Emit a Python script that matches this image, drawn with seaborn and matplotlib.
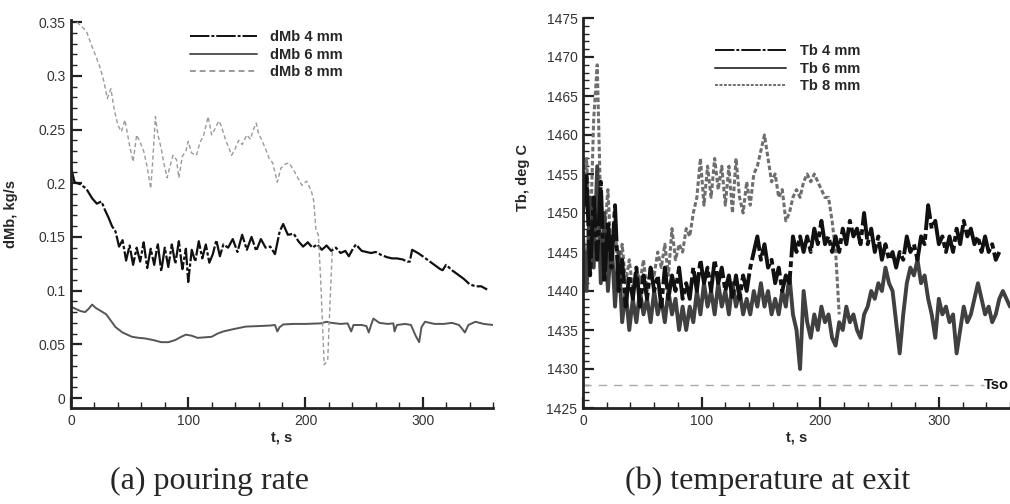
import numpy as np
import pandas as pd
import matplotlib
matplotlib.use("Agg")
import matplotlib.pyplot as plt
from matplotlib.ticker import MultipleLocator, FuncFormatter
import seaborn as sns

# ---------------- data: (a) pouring rate dMb, kg/s ----------------
t_dmb4 = [0, 3, 8, 13, 18, 22, 26, 29, 32, 35,
          38, 41, 44, 47, 50, 53, 56, 59, 62, 65,
          68, 71, 74, 77, 80, 83, 86, 89, 92, 95,
          98, 100, 103, 106, 109, 112, 115, 118, 121, 124,
          127, 130, 134, 138, 142, 146, 150, 154, 158, 162,
          166, 170, 174, 178, 181, 185, 190, 194, 198, 202,
          206, 210, 214, 218, 222, 226, 230, 234, 237, 240,
          243, 248, 252, 256, 260, 265, 270, 274, 278, 283,
          287, 289, 291, 296, 300, 305, 310, 315, 317, 320,
          325, 330, 335, 340, 345, 350, 355]
dmb4 = [.215, .201, .199, .195, .186, .181, .183, .175, .168, .160,
        .155, .141, .147, .128, .142, .124, .140, .127, .145, .121,
        .139, .124, .144, .118, .140, .122, .143, .125, .146, .120,
        .139, .108, .138, .127, .146, .130, .143, .126, .134, .147,
        .132, .143, .140, .148, .136, .152, .138, .150, .137, .148,
        .140, .141, .134, .155, .162, .152, .153, .146, .141, .145,
        .140, .143, .138, .142, .137, .140, .135, .137, .132, .138,
        .143, .137, .136, .135, .136, .133, .131, .130, .130, .129,
        .127, .127, .138, .135, .132, .128, .124, .120, .119, .124,
        .119, .115, .111, .106, .104, .104, .101]

t_dmb6 = [0, 4, 8, 12, 15, 18, 21, 24, 27, 30,
          34, 38, 44, 52, 58, 63, 70, 77, 83, 89,
          94, 98, 103, 108, 114, 120, 125, 130, 138, 149,
          160, 170, 174, 176, 178, 181, 190, 200, 213, 218,
          222, 230, 236, 239, 241, 248, 252, 254, 256, 258,
          263, 270, 275, 276, 278, 285, 290, 294, 297, 299,
          302, 310, 318, 325, 331, 334, 336, 339, 345, 352,
          360]
dmb6 = [.085, .083, .081, .080, .083, .087, .084, .082, .080, .078,
        .072, .066, .061, .057, .056, .0555, .054, .052, .052, .054,
        .057, .059, .058, .056, .0565, .057, .060, .062, .064, .0665,
        .067, .0675, .068, .062, .066, .0685, .069, .069, .0695, .071,
        .070, .069, .0695, .062, .068, .068, .067, .061, .068, .074,
        .070, .069, .0695, .062, .068, .069, .068, .058, .052, .066,
        .071, .069, .069, .070, .068, .064, .061, .068, .071, .069,
        .068]

t_dmb8 = [5, 10, 13, 17, 22, 25, 28, 31, 34, 37,
          40, 43, 46, 50, 53, 56, 59, 62, 65, 68,
          70, 72, 74, 77, 79, 82, 84, 87, 90, 92,
          95, 98, 100, 103, 107, 110, 113, 117, 120, 123,
          126, 128, 132, 135, 137, 140, 143, 146, 150, 153,
          156, 158, 160, 162, 166, 169, 172, 176, 179, 183,
          186, 190, 193, 197, 201, 205, 207, 209, 211, 213,
          216, 219, 221, 223]
dmb8 = [.350, .345, .342, .330, .316, .307, .295, .279, .288, .268,
        .254, .248, .259, .235, .220, .245, .238, .230, .215, .195,
        .225, .262, .246, .232, .220, .205, .214, .226, .222, .205,
        .225, .230, .239, .228, .226, .238, .244, .262, .245, .251,
        .258, .254, .240, .232, .226, .232, .240, .236, .245, .241,
        .251, .256, .246, .242, .232, .223, .219, .201, .214, .218,
        .219, .212, .206, .198, .202, .193, .184, .156, .152, .110,
        .031, .035, .090, .140]

# ---------------- data: (b) temperature at exit Tb, deg C ----------------
t_tb4 = np.arange(0, 352, 3)          # sample times 0..351 s
tb4 = [1450, 1455, 1442, 1452, 1444, 1454, 1441, 1449, 1443, 1451,
       1440, 1444, 1438, 1442, 1439, 1443, 1438, 1442, 1439, 1443,
       1440, 1442, 1438, 1443, 1439, 1442, 1440, 1443, 1439, 1441,
       1439, 1443, 1440, 1444, 1441, 1443, 1440, 1444, 1441, 1443,
       1440, 1442, 1439, 1442, 1439, 1442, 1440, 1443, 1445, 1447,
       1444, 1446, 1443, 1444, 1441, 1443, 1440, 1442, 1441, 1447,
       1445, 1447, 1445, 1447, 1445, 1448, 1446, 1449, 1446, 1447,
       1445, 1447, 1445, 1448, 1446, 1449, 1447, 1448, 1446, 1450,
       1446, 1448, 1445, 1447, 1444, 1446, 1444, 1445, 1443, 1445,
       1444, 1447, 1445, 1446, 1444, 1447, 1446, 1451, 1448, 1449,
       1446, 1447, 1445, 1447, 1445, 1448, 1446, 1449, 1447, 1448,
       1446, 1447, 1445, 1447, 1445, 1446, 1444, 1445]

t_tb6 = np.arange(0, 361, 3)          # sample times 0..360 s
tb6 = [1447, 1440, 1452, 1443, 1456, 1441, 1450, 1440, 1447, 1438,
       1445, 1436, 1440, 1435, 1439, 1436, 1440, 1437, 1439, 1436,
       1440, 1437, 1439, 1436, 1440, 1437, 1439, 1435, 1438, 1435,
       1438, 1436, 1440, 1437, 1441, 1438, 1440, 1437, 1441, 1438,
       1440, 1437, 1441, 1438, 1440, 1437, 1439, 1437, 1440, 1438,
       1441, 1438, 1440, 1437, 1439, 1437, 1440, 1438, 1442, 1437,
       1435, 1430, 1440, 1436, 1434, 1437, 1435, 1438, 1436, 1437,
       1434, 1433, 1436, 1435, 1438, 1436, 1437, 1435, 1434, 1437,
       1438, 1440, 1439, 1441, 1440, 1443, 1441, 1440, 1436, 1432,
       1437, 1441, 1443, 1442, 1444, 1441, 1442, 1439, 1437, 1434,
       1439, 1437, 1438, 1436, 1437, 1432, 1435, 1438, 1436, 1437,
       1439, 1441, 1439, 1437, 1438, 1436, 1437, 1439, 1440, 1439,
       1438]

t_tb8 = np.arange(0, 217, 3)          # sample times 0..216 s
tb8 = [1452, 1457, 1446, 1462, 1469, 1450, 1447, 1453, 1444, 1449,
       1441, 1446, 1441, 1444, 1440, 1443, 1441, 1444, 1440, 1443,
       1442, 1445, 1443, 1446, 1442, 1448, 1444, 1446, 1445, 1448,
       1447, 1450, 1452, 1457, 1451, 1456, 1452, 1457, 1453, 1456,
       1451, 1456, 1450, 1457, 1452, 1450, 1454, 1451, 1455, 1456,
       1458, 1460, 1457, 1454, 1455, 1452, 1453, 1449, 1450, 1452,
       1453, 1452, 1454, 1455, 1454, 1455, 1454, 1453, 1452, 1452,
       1449, 1445, 1437]

tso_t = [0, 338]
tso = [1428, 1428]

labels_a = ["dMb 4 mm", "dMb 6 mm", "dMb 8 mm"]
labels_b = ["Tb 4 mm", "Tb 6 mm", "Tb 8 mm"]

# ---------------- style ----------------
sns.set_style("white")
plt.rcParams["font.family"] = ["Liberation Sans", "DejaVu Sans"]

W, H = 1010, 504
fig = plt.figure(figsize=(W / 100, H / 100), dpi=100)

def fig_rect(x0, y_top, x1, y_bot):
    return [x0 / W, 1 - y_bot / H, (x1 - x0) / W, (y_bot - y_top) / H]

axA = fig.add_axes(fig_rect(71, 20, 493, 408))
axB = fig.add_axes(fig_rect(583, 18, 1010, 408))

c4, c6, c8 = "#111111", "#555555", "#9a9a9a"
dashdot = (0, (10, 1.0, 1.5, 1.0))

sns.lineplot(x=t_dmb4, y=dmb4, ax=axA, color=c4, lw=1.6,
             linestyle=dashdot, estimator=None, sort=False,
             label=labels_a[0])
sns.lineplot(x=t_dmb6, y=dmb6, ax=axA, color=c6, lw=1.4, linestyle="-",
             estimator=None, sort=False, label=labels_a[1])
sns.lineplot(x=t_dmb8, y=dmb8, ax=axA, color=c8, lw=1.0,
             linestyle=(0, (3, 2)), estimator=None, sort=False,
             label=labels_a[2])

sns.lineplot(x=t_tb8, y=tb8, ax=axB, color="#6e6e6e", lw=2.2,
             linestyle=(0, (1.5, 0.8)), estimator=None, sort=False,
             label=labels_b[2])
sns.lineplot(x=t_tb6, y=tb6, ax=axB, color="#404040", lw=2.8, linestyle="-",
             estimator=None, sort=False, label=labels_b[1])
sns.lineplot(x=t_tb4, y=tb4, ax=axB, color=c4, lw=2.8,
             linestyle=dashdot, estimator=None, sort=False,
             label=labels_b[0])
sns.lineplot(x=tso_t, y=tso, ax=axB, color="#aaaaaa", lw=1.0,
             linestyle=(0, (6, 5)), estimator=None, sort=False)
axB.text(359, 1428, "Tso", ha="right", va="center", fontsize=10.5,
         fontweight="bold", color="#111111", clip_on=False)

# axes cosmetics
for ax in (axA, axB):
    ax.set_xlim(0, 360)
    for s in ("top", "right"):
        ax.spines[s].set_visible(False)
    for s in ("left", "bottom"):
        ax.spines[s].set_linewidth(2.0)
        ax.spines[s].set_color("#222222")
    ax.xaxis.set_major_locator(MultipleLocator(100))
    ax.xaxis.set_minor_locator(MultipleLocator(20))
    ax.tick_params(which="major", direction="in", length=8, width=1.6,
                   labelsize=10, labelcolor="#333333", color="#222222", pad=4)
    ax.tick_params(which="minor", direction="in", length=4, width=1.0,
                   color="#222222")
    ax.tick_params(axis="both", which="both", bottom=True, left=True,
                   top=False, right=False)
    ax.set_xlabel("t, s", fontsize=10.5, fontweight="bold", labelpad=2)
    ax.grid(False)

axA.set_ylim(-0.0093, 0.352)
axA.yaxis.set_major_locator(MultipleLocator(0.05))
axA.yaxis.set_minor_locator(MultipleLocator(0.01))
axA.yaxis.set_major_formatter(FuncFormatter(lambda v, p: "%g" % round(v, 3)))
axA.set_ylabel("dMb, kg/s", fontsize=10.5, fontweight="bold")
axA.yaxis.set_label_coords(-0.126, 0.5)

axB.set_ylim(1425, 1475)
axB.yaxis.set_major_locator(MultipleLocator(5))
axB.yaxis.set_minor_locator(MultipleLocator(1))
axB.set_ylabel("Tb, deg C", fontsize=10.5, fontweight="bold")
axB.yaxis.set_label_coords(-0.124, 0.59)

# legends
hA, lA = axA.get_legend_handles_labels()
legA = axA.legend(hA, lA, loc="upper left", bbox_to_anchor=(190 / W, 1 - 30 / H),
                  bbox_transform=fig.transFigure, frameon=False, borderpad=0,
                  borderaxespad=0, handlelength=4.6, handletextpad=0.9,
                  labelspacing=0.25, prop={"size": 10.5, "weight": "bold"})
hB, lB = axB.get_legend_handles_labels()
order = [lB.index(l) for l in labels_b]
legB = axB.legend([hB[i] for i in order], [lB[i] for i in order], loc="upper left",
                  bbox_to_anchor=(715 / W, 1 - 44 / H), bbox_transform=fig.transFigure,
                  frameon=False, borderpad=0, borderaxespad=0, handlelength=4.9,
                  handletextpad=0.9, labelspacing=0.25,
                  prop={"size": 10.5, "weight": "bold"})
for leg in (legA, legB):
    for ln in leg.get_lines():
        ln.set_linewidth(1.4)

# captions
fig.text(210 / W, 1 - 481 / H, "(a) pouring rate", ha="center", va="center",
         fontsize=23, family="Liberation Serif")
fig.text(768 / W, 1 - 481 / H, "(b) temperature at exit", ha="center",
         va="center", fontsize=23, family="Liberation Serif")

fig.savefig("out.png", dpi=100)
